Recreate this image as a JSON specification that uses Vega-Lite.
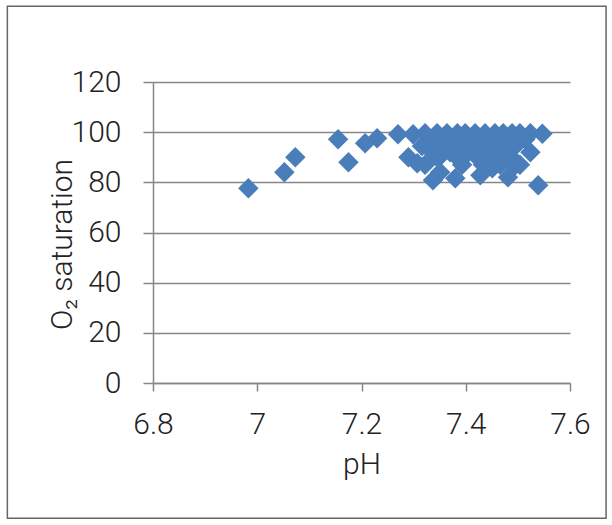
{
  "$schema": "https://vega.github.io/schema/vega-lite/v6.json",
  "width": 417,
  "height": 301,
  "autosize": "none",
  "padding": {"left": 153, "top": 82, "right": 42, "bottom": 142},
  "background": "white",
  "config": {
    "view": {"stroke": null},
    "font": "Roboto",
    "axis": {
      "labelFont": "Roboto",
      "labelFontWeight": 300,
      "labelFontSize": 30,
      "labelColor": "#222222",
      "titleFont": "Roboto",
      "titleFontWeight": 300,
      "titleFontSize": 30,
      "titleColor": "#222222",
      "domainColor": "#868686",
      "domainWidth": 1.5,
      "tickColor": "#868686",
      "tickWidth": 1.5,
      "gridColor": "#868686",
      "gridWidth": 1.4
    }
  },
  "layer": [
    {
      "data": {"values": [{}]},
      "mark": {"type": "rect", "fill": "white", "fillOpacity": 0, "stroke": "#666666", "strokeWidth": 1.5, "clip": false},
      "encoding": {
        "x": {"datum": 6.5206, "type": "quantitative"},
        "x2": {"datum": 7.6692},
        "y": {"datum": 150.2, "type": "quantitative"},
        "y2": {"datum": -53.9}
      }
    },
    {
      "data": {
        "values": [
          {"pH": 6.983, "O2": 77.6},
          {"pH": 7.052, "O2": 84.0},
          {"pH": 7.073, "O2": 90.0},
          {"pH": 7.155, "O2": 97.2},
          {"pH": 7.175, "O2": 88.0},
          {"pH": 7.207, "O2": 95.6},
          {"pH": 7.230, "O2": 97.6},
          {"pH": 7.270, "O2": 99.2},
          {"pH": 7.299, "O2": 99.2},
          {"pH": 7.290, "O2": 90.0},
          {"pH": 7.307, "O2": 87.6},
          {"pH": 7.322, "O2": 99.6},
          {"pH": 7.345, "O2": 99.6},
          {"pH": 7.364, "O2": 99.6},
          {"pH": 7.384, "O2": 99.6},
          {"pH": 7.399, "O2": 99.6},
          {"pH": 7.418, "O2": 99.6},
          {"pH": 7.437, "O2": 99.6},
          {"pH": 7.456, "O2": 99.6},
          {"pH": 7.472, "O2": 99.6},
          {"pH": 7.489, "O2": 99.6},
          {"pH": 7.504, "O2": 99.6},
          {"pH": 7.524, "O2": 99.6},
          {"pH": 7.547, "O2": 99.4},
          {"pH": 7.332, "O2": 97.2},
          {"pH": 7.374, "O2": 97.2},
          {"pH": 7.408, "O2": 97.2},
          {"pH": 7.447, "O2": 97.2},
          {"pH": 7.481, "O2": 97.2},
          {"pH": 7.514, "O2": 97.2},
          {"pH": 7.316, "O2": 94.5},
          {"pH": 7.351, "O2": 94.5},
          {"pH": 7.389, "O2": 94.5},
          {"pH": 7.424, "O2": 94.5},
          {"pH": 7.460, "O2": 94.5},
          {"pH": 7.495, "O2": 94.5},
          {"pH": 7.336, "O2": 92.0},
          {"pH": 7.370, "O2": 92.0},
          {"pH": 7.405, "O2": 92.0},
          {"pH": 7.437, "O2": 92.0},
          {"pH": 7.472, "O2": 92.0},
          {"pH": 7.524, "O2": 92.0},
          {"pH": 7.347, "O2": 89.6},
          {"pH": 7.385, "O2": 89.6},
          {"pH": 7.424, "O2": 89.6},
          {"pH": 7.456, "O2": 89.6},
          {"pH": 7.489, "O2": 89.6},
          {"pH": 7.322, "O2": 87.0},
          {"pH": 7.393, "O2": 87.0},
          {"pH": 7.433, "O2": 87.0},
          {"pH": 7.466, "O2": 87.0},
          {"pH": 7.504, "O2": 87.0},
          {"pH": 7.337, "O2": 80.8},
          {"pH": 7.351, "O2": 84.0},
          {"pH": 7.380, "O2": 81.6},
          {"pH": 7.428, "O2": 82.8},
          {"pH": 7.451, "O2": 85.6},
          {"pH": 7.481, "O2": 82.0},
          {"pH": 7.539, "O2": 78.8},
          {"pH": 7.495, "O2": 86.8}
        ]
      },
      "mark": {"type": "point", "shape": "diamond", "filled": true, "size": 420, "color": "#4a7ebb", "opacity": 1},
      "encoding": {
        "x": {
          "field": "pH",
          "type": "quantitative",
          "scale": {"domain": [6.8, 7.6], "nice": false, "zero": false},
          "axis": {
            "title": "pH",
            "values": [6.8, 7, 7.2, 7.4, 7.6],
            "format": "~g",
            "grid": false,
            "tickSize": 8,
            "labelBaseline": "alphabetic",
            "labelPadding": 42,
            "labelFlush": false,
            "titleBaseline": "alphabetic",
            "titleY": 90
          }
        },
        "y": {
          "field": "O2",
          "type": "quantitative",
          "scale": {"domain": [0, 120], "nice": false},
          "axis": {
            "title": "O₂  saturation",
            "values": [0, 20, 40, 60, 80, 100, 120],
            "grid": true,
            "tickSize": 10,
            "labelPadding": 22,
            "labelFlush": false,
            "titleAngle": -90,
            "titleAlign": "center",
            "titleBaseline": "middle",
            "titleX": -91,
            "titleY": 162
          }
        }
      }
    }
  ]
}
